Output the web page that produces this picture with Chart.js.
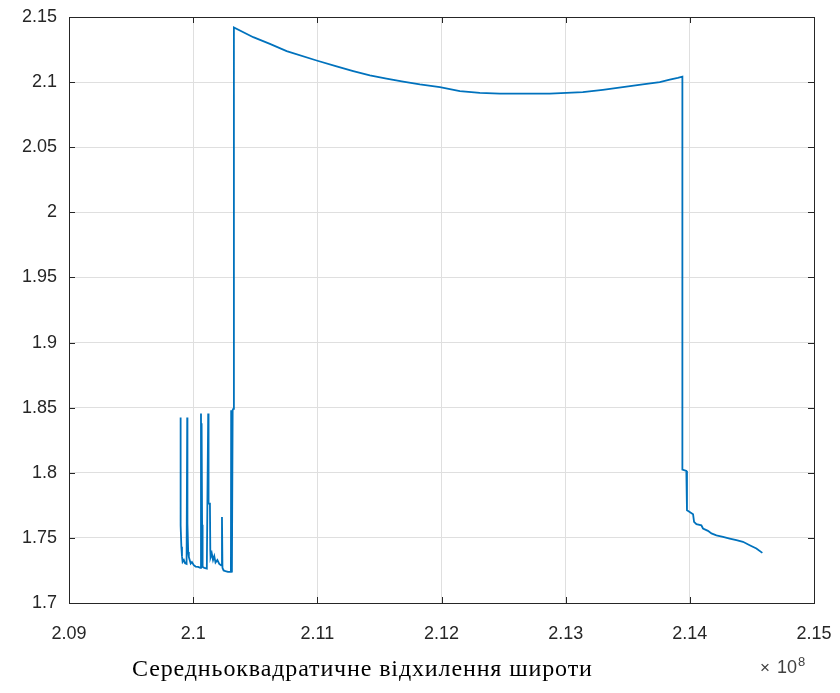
<!DOCTYPE html>
<html>
<head>
<meta charset="utf-8">
<script src="https://cdn.jsdelivr.net/npm/chart.js@4.4.1/dist/chart.umd.min.js"></script>
<style>
  body { margin: 0; background: #fff; }
</style>
</head>
<body>
<canvas id="lineChart" width="840" height="693"></canvas>
<script>
// x values are in units of 1e8 (the "×10^8" factor is shown under the axis)
const xTicks = [2.09, 2.1, 2.11, 2.12, 2.13, 2.14, 2.15];
const yTicks = [1.7, 1.75, 1.8, 1.85, 1.9, 1.95, 2, 2.05, 2.1, 2.15];

// noisy start
const noiseX = [2.09899, 2.09899, 2.09905, 2.09910, 2.09915, 2.09925, 2.09935, 2.09947,
	2.09952, 2.09954, 2.09960, 2.09965, 2.09972, 2.09980, 2.09990, 2.10005, 2.10020, 2.10040, 2.10058,
	2.10063, 2.10066, 2.10068, 2.10072, 2.10076, 2.10090, 2.10110,
	2.10121, 2.10124, 2.10135, 2.10138, 2.10140, 2.10150, 2.10160, 2.10170, 2.10180, 2.10195, 2.10210, 2.10225,
	2.10232, 2.10236, 2.10245, 2.10260, 2.10280, 2.10300,
	2.10304, 2.10306, 2.10312, 2.10318, 2.10323];
const noiseY = [1.8424, 1.7597, 1.7431, 1.7360, 1.7316, 1.7330, 1.7305, 1.7300,
	1.8424, 1.7613, 1.7392, 1.7354, 1.7330, 1.7303, 1.7315, 1.7290, 1.7280, 1.7277, 1.7270,
	1.8455, 1.7750, 1.8380, 1.7600, 1.7277, 1.7270, 1.7265,
	1.8455, 1.7764, 1.7763, 1.7405, 1.7350, 1.7380, 1.7330, 1.7360, 1.7310, 1.7330, 1.7300, 1.7290,
	1.7661, 1.7270, 1.7250, 1.7245, 1.7239, 1.7239,
	1.7240, 1.8480, 1.7235, 1.8480, 1.8490];

// high plateau
const arcX = [2.10328, 2.10484, 2.10618, 2.10753, 2.10994, 2.11155, 2.11289, 2.11423, 2.11557,
	2.11691, 2.11826, 2.11987, 2.12148, 2.12309, 2.12470, 2.12872, 2.13006, 2.13138,
	2.13299, 2.13460, 2.13621, 2.13758, 2.13838, 2.13903, 2.13940];
const arcY = [2.1420, 2.1345, 2.1294, 2.1238, 2.1166, 2.1120, 2.1084, 2.1051, 2.1026,
	2.1003, 2.0982, 2.0961, 2.0931, 2.0918, 2.0911, 2.0911, 2.0918, 2.0923,
	2.0941, 2.0961, 2.0982, 2.1000, 2.1020, 2.1033, 2.1042];

// drop and tail
const tailX = [2.13940, 2.13972, 2.13977, 2.13999, 2.14026, 2.14034, 2.14053, 2.14093, 2.14106,
	2.14146, 2.14174, 2.14214, 2.14267, 2.14321, 2.14375, 2.14428, 2.14482, 2.14536, 2.14584];
const tailY = [1.8025, 1.8014, 1.7712, 1.7699, 1.7682, 1.7623, 1.7605, 1.7597, 1.7572,
	1.7554, 1.7534, 1.7520, 1.7508, 1.7495, 1.7482, 1.7470, 1.7444, 1.7419, 1.7385];

const xs = noiseX.concat(arcX, tailX);
const ys = noiseY.concat(arcY, tailY);
const points = xs.map((x, i) => ({ x: x, y: ys[i] }));

const axisColor = '#262626';
const tickFont = { family: 'Liberation Sans, Arial, sans-serif', size: 18 };
const fmt = (v) => String(parseFloat(v.toFixed(4)));
const caption = 'Середньоквадратичне відхилення широти';

// MATLAB-like box, inward ticks, exponent and caption
const boxPlugin = {
	id: 'box',
	afterDraw(chart) {
		const { ctx, chartArea: a, scales } = chart;
		ctx.save();
		ctx.strokeStyle = axisColor;
		ctx.lineWidth = 1;
		ctx.strokeRect(a.left + 0.5, a.top + 0.5, a.right - a.left, a.bottom - a.top);
		ctx.beginPath();
		xTicks.forEach((v) => {
			const px = Math.round(scales.x.getPixelForValue(v)) + 0.5;
			ctx.moveTo(px, a.bottom); ctx.lineTo(px, a.bottom - 6);
			ctx.moveTo(px, a.top); ctx.lineTo(px, a.top + 6);
		});
		yTicks.forEach((v) => {
			const py = Math.round(scales.y.getPixelForValue(v)) + 0.5;
			ctx.moveTo(a.left, py); ctx.lineTo(a.left + 6, py);
			ctx.moveTo(a.right, py); ctx.lineTo(a.right - 6, py);
		});
		ctx.stroke();

		ctx.fillStyle = '#404040';
		ctx.textBaseline = 'alphabetic';
		ctx.font = '17px Liberation Sans, Arial, sans-serif';
		ctx.fillText('\u00d7', 760, 673);
		ctx.font = '18px Liberation Sans, Arial, sans-serif';
		ctx.fillText('10', 777, 673);
		ctx.font = '13px Liberation Sans, Arial, sans-serif';
		ctx.fillText('8', 798, 666);

		ctx.fillStyle = '#000';
		ctx.font = '24px Liberation Serif, Times New Roman, serif';
		const w = ctx.measureText(caption).width;
		ctx.letterSpacing = ((460 - w) / (caption.length - 1)).toFixed(2) + 'px';
		ctx.fillText(caption, 132, 676);
		ctx.restore();
	},
};

new Chart(document.getElementById('lineChart'), {
	type: 'scatter',
	data: {
		datasets: [
			{
				data: points,
				showLine: true,
				borderColor: '#0072BD',
				borderWidth: 1.8,
				pointRadius: 0,
				tension: 0,
			},
		],
	},
	options: {
		responsive: false,
		animation: false,
		layout: { padding: { top: 17, right: 26, left: 0, bottom: 0 } },
		plugins: {
			legend: { display: false },
			tooltip: { enabled: false },
		},
		scales: {
			x: {
				type: 'linear',
				min: 2.09,
				max: 2.15,
				afterBuildTicks: (s) => { s.ticks = xTicks.map((v) => ({ value: v })); },
				afterFit: (s) => { s.height = 90; s.paddingLeft = 0; s.paddingRight = 0; },
				grid: { color: '#dfdfdf', drawTicks: false },
				border: { display: false },
				ticks: { padding: 20, font: tickFont, color: axisColor, maxRotation: 0, callback: fmt },
			},
			y: {
				type: 'linear',
				min: 1.7,
				max: 2.15,
				afterBuildTicks: (s) => { s.ticks = yTicks.map((v) => ({ value: v })); },
				afterFit: (s) => { s.width = 69; s.paddingTop = 0; s.paddingBottom = 0; },
				grid: { color: '#dfdfdf', drawTicks: false },
				border: { display: false },
				ticks: { padding: 12, font: tickFont, color: axisColor, callback: fmt },
			},
		},
	},
	plugins: [boxPlugin],
});
</script>
</body>
</html>
